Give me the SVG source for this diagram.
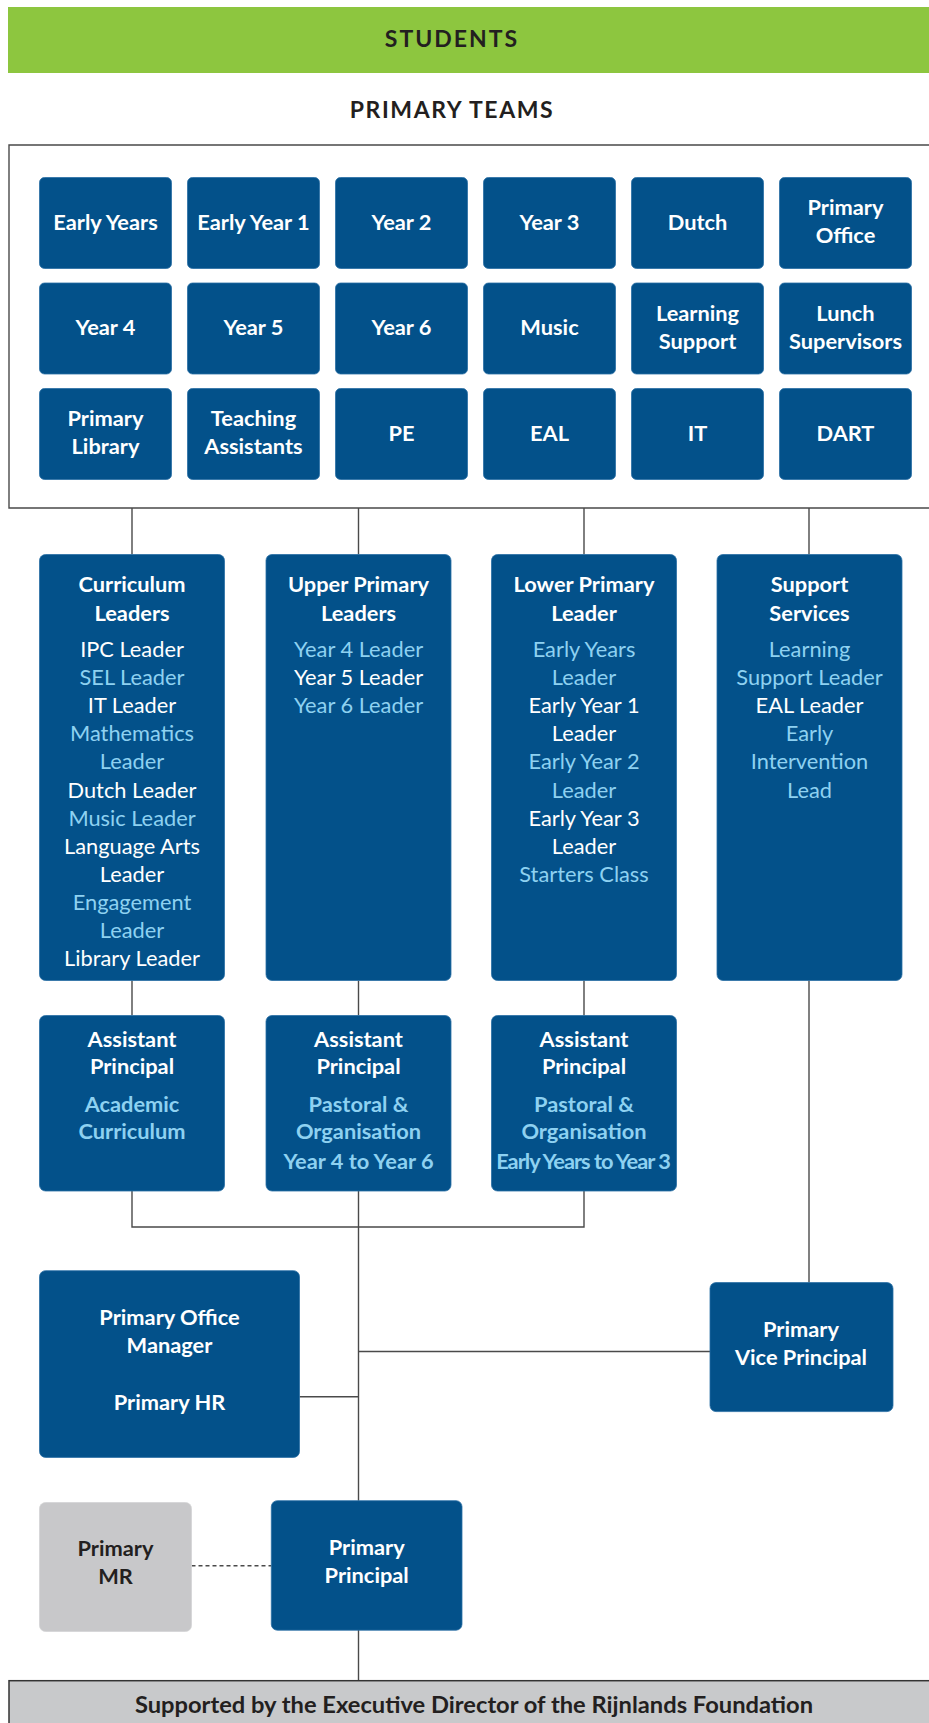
<svg xmlns="http://www.w3.org/2000/svg" width="929" height="1723" viewBox="0 0 929 1723">
<style>
.box{fill:#03518A;stroke:#2a6ea4;stroke-width:0.8}
.grey{fill:#C8C8CA;stroke:#d4d4d6;stroke-width:0.8}
.t{font-family:Lato,"Open Sans","Liberation Sans",sans-serif;text-anchor:middle}
.b{font-weight:bold;fill:#FFFFFF;font-size:21.8px}
.hb{font-weight:bold;fill:#8ED1F1;font-size:21.8px}
.w{fill:#FFFFFF;font-size:21.8px}
.lb{fill:#8ED1F1;font-size:21.8px}
.hd{font-weight:bold;fill:#231F20;font-size:23px;letter-spacing:2px}
.dk{font-weight:bold;fill:#231F20;font-size:21.8px}
.ln{stroke:#4a4a4a;stroke-width:1.4;fill:none}
</style>
<g id="students">
<rect x="8" y="7" width="922" height="66" fill="#8DC63F"/>
<text class="t hd" x="452" y="46.5">STUDENTS</text>
</g>
<g id="primary-teams">
<text class="t hd" x="452" y="118" style="letter-spacing:1.6px">PRIMARY TEAMS</text>
<path class="ln" d="M935,145 H9 V508 H935" stroke="#555" stroke-width="1.6"/>
</g>
<g id="connectors">
<path class="ln" d="M132,508 V554.5 M358.5,508 V554.5 M584,508 V554.5 M809,508 V554.5"/>
<path class="ln" d="M132,980.5 V1015.5 M358.5,980.5 V1015.5 M584,980.5 V1015.5"/>
<path class="ln" d="M132,1191 V1227 H584 V1191 M358.5,1191 V1500.7"/>
<path class="ln" d="M809,980.5 V1282.6"/>
<path class="ln" d="M358.5,1351.5 H710"/>
<path class="ln" d="M299.5,1396.7 H358.5"/>
<path class="ln" d="M358.5,1630 V1681"/>
<path class="ln" d="M191.5,1565.7 H271.3" stroke-dasharray="4,3"/>
</g>
<g id="team-early-years"><rect class="box" x="39.5" y="177.5" width="132" height="91" rx="5"/><text class="t b" x="105.5" y="229.5">Early Years</text></g>
<g id="team-early-year-1"><rect class="box" x="187.5" y="177.5" width="132" height="91" rx="5"/><text class="t b" x="253.5" y="229.5">Early Year 1</text></g>
<g id="team-year-2"><rect class="box" x="335.5" y="177.5" width="132" height="91" rx="5"/><text class="t b" x="401.5" y="229.5">Year 2</text></g>
<g id="team-year-3"><rect class="box" x="483.5" y="177.5" width="132" height="91" rx="5"/><text class="t b" x="549.5" y="229.5">Year 3</text></g>
<g id="team-dutch"><rect class="box" x="631.5" y="177.5" width="132" height="91" rx="5"/><text class="t b" x="697.5" y="229.5">Dutch</text></g>
<g id="team-primary-office"><rect class="box" x="779.5" y="177.5" width="132" height="91" rx="5"/><text class="t b" x="845.5" y="215">Primary</text><text class="t b" x="845.5" y="243">Office</text></g>
<g id="team-year-4"><rect class="box" x="39.5" y="283" width="132" height="91" rx="5"/><text class="t b" x="105.5" y="335">Year 4</text></g>
<g id="team-year-5"><rect class="box" x="187.5" y="283" width="132" height="91" rx="5"/><text class="t b" x="253.5" y="335">Year 5</text></g>
<g id="team-year-6"><rect class="box" x="335.5" y="283" width="132" height="91" rx="5"/><text class="t b" x="401.5" y="335">Year 6</text></g>
<g id="team-music"><rect class="box" x="483.5" y="283" width="132" height="91" rx="5"/><text class="t b" x="549.5" y="335">Music</text></g>
<g id="team-learning-support"><rect class="box" x="631.5" y="283" width="132" height="91" rx="5"/><text class="t b" x="697.5" y="320.5">Learning</text><text class="t b" x="697.5" y="348.5">Support</text></g>
<g id="team-lunch-supervisors"><rect class="box" x="779.5" y="283" width="132" height="91" rx="5"/><text class="t b" x="845.5" y="320.5">Lunch</text><text class="t b" x="845.5" y="348.5">Supervisors</text></g>
<g id="team-primary-library"><rect class="box" x="39.5" y="388.5" width="132" height="91" rx="5"/><text class="t b" x="105.5" y="426">Primary</text><text class="t b" x="105.5" y="454">Library</text></g>
<g id="team-teaching-assistants"><rect class="box" x="187.5" y="388.5" width="132" height="91" rx="5"/><text class="t b" x="253.5" y="426">Teaching</text><text class="t b" x="253.5" y="454">Assistants</text></g>
<g id="team-pe"><rect class="box" x="335.5" y="388.5" width="132" height="91" rx="5"/><text class="t b" x="401.5" y="440.5">PE</text></g>
<g id="team-eal"><rect class="box" x="483.5" y="388.5" width="132" height="91" rx="5"/><text class="t b" x="549.5" y="440.5">EAL</text></g>
<g id="team-it"><rect class="box" x="631.5" y="388.5" width="132" height="91" rx="5"/><text class="t b" x="697.5" y="440.5">IT</text></g>
<g id="team-dart"><rect class="box" x="779.5" y="388.5" width="132" height="91" rx="5"/><text class="t b" x="845.5" y="440.5">DART</text></g>
<g id="curriculum-leaders">
<rect class="box" x="39.5" y="554.5" width="185" height="426" rx="6"/>
<text class="t b" x="132" y="591.7">Curriculum</text>
<text class="t b" x="132" y="621">Leaders</text>
<text class="t w" x="132" y="656.7">IPC Leader</text>
<text class="t lb" x="132" y="684.9">SEL Leader</text>
<text class="t w" x="132" y="713">IT Leader</text>
<text class="t lb" x="132" y="741.2">Mathematics</text>
<text class="t lb" x="132" y="769.3">Leader</text>
<text class="t w" x="132" y="797.5">Dutch Leader</text>
<text class="t lb" x="132" y="825.6">Music Leader</text>
<text class="t w" x="132" y="853.8">Language Arts</text>
<text class="t w" x="132" y="881.9">Leader</text>
<text class="t lb" x="132" y="910.1">Engagement</text>
<text class="t lb" x="132" y="938.2">Leader</text>
<text class="t w" x="132" y="966.4">Library Leader</text>
</g>
<g id="upper-primary-leaders">
<rect class="box" x="266" y="554.5" width="185" height="426" rx="6"/>
<text class="t b" x="358.5" y="591.7">Upper Primary</text>
<text class="t b" x="358.5" y="621">Leaders</text>
<text class="t lb" x="358.5" y="656.7">Year 4 Leader</text>
<text class="t w" x="358.5" y="684.9">Year 5 Leader</text>
<text class="t lb" x="358.5" y="713">Year 6 Leader</text>
</g>
<g id="lower-primary-leader">
<rect class="box" x="491.5" y="554.5" width="185" height="426" rx="6"/>
<text class="t b" x="584" y="591.7">Lower Primary</text>
<text class="t b" x="584" y="621">Leader</text>
<text class="t lb" x="584" y="656.7">Early Years</text>
<text class="t lb" x="584" y="684.9">Leader</text>
<text class="t w" x="584" y="713">Early Year 1</text>
<text class="t w" x="584" y="741.2">Leader</text>
<text class="t lb" x="584" y="769.3">Early Year 2</text>
<text class="t lb" x="584" y="797.5">Leader</text>
<text class="t w" x="584" y="825.6">Early Year 3</text>
<text class="t w" x="584" y="853.8">Leader</text>
<text class="t lb" x="584" y="881.9">Starters Class</text>
</g>
<g id="support-services">
<rect class="box" x="717" y="554.5" width="185" height="426" rx="6"/>
<text class="t b" x="809.5" y="591.7">Support</text>
<text class="t b" x="809.5" y="621">Services</text>
<text class="t lb" x="809.5" y="656.7">Learning</text>
<text class="t lb" x="809.5" y="684.9">Support Leader</text>
<text class="t w" x="809.5" y="713">EAL Leader</text>
<text class="t lb" x="809.5" y="741.2">Early</text>
<text class="t lb" x="809.5" y="769.3">Intervention</text>
<text class="t lb" x="809.5" y="797.5">Lead</text>
</g>
<g id="ap-academic">
<rect class="box" x="39.5" y="1015.5" width="185" height="175.5" rx="6"/>
<text class="t b" x="132" y="1046.7">Assistant</text>
<text class="t b" x="132" y="1074">Principal</text>
<text class="t hb" x="132" y="1111.7">Academic</text>
<text class="t hb" x="132" y="1139.3">Curriculum</text>
</g>
<g id="ap-upper">
<rect class="box" x="266" y="1015.5" width="185" height="175.5" rx="6"/>
<text class="t b" x="358.5" y="1046.7">Assistant</text>
<text class="t b" x="358.5" y="1074">Principal</text>
<text class="t hb" x="358.5" y="1111.7">Pastoral &amp;</text>
<text class="t hb" x="358.5" y="1139.3">Organisation</text>
<text class="t hb" x="358.5" y="1168.5">Year 4 to Year 6</text>
</g>
<g id="ap-lower">
<rect class="box" x="491.5" y="1015.5" width="185" height="175.5" rx="6"/>
<text class="t b" x="584" y="1046.7">Assistant</text>
<text class="t b" x="584" y="1074">Principal</text>
<text class="t hb" x="584" y="1111.7">Pastoral &amp;</text>
<text class="t hb" x="584" y="1139.3">Organisation</text>
<text class="t hb" x="583" y="1168.5" style="letter-spacing:-1px">Early Years to Year 3</text>
</g>
<g id="office-manager">
<rect class="box" x="39.5" y="1270.7" width="260" height="186.7" rx="6"/>
<text class="t b" x="169.5" y="1325">Primary Office</text>
<text class="t b" x="169.5" y="1353">Manager</text>
<text class="t b" x="169.5" y="1410">Primary HR</text>
</g>
<g id="vice-principal">
<rect class="box" x="710" y="1282.6" width="183" height="129" rx="6"/>
<text class="t b" x="801" y="1337">Primary</text>
<text class="t b" x="801" y="1365">Vice Principal</text>
</g>
<g id="primary-mr">
<rect class="grey" x="39.5" y="1502.5" width="152" height="129" rx="6"/>
<text class="t dk" x="115.5" y="1556">Primary</text>
<text class="t dk" x="115.5" y="1584">MR</text>
</g>
<g id="primary-principal">
<rect class="box" x="271.3" y="1500.7" width="190.7" height="129.5" rx="6"/>
<text class="t b" x="366.7" y="1555">Primary</text>
<text class="t b" x="366.7" y="1583">Principal</text>
</g>
<g id="executive-director">
<rect x="9" y="1680.7" width="930" height="60" fill="#C8C9CB" stroke="#333" stroke-width="1.5"/>
<text class="t dk" x="474" y="1713.3" style="font-size:23.7px">Supported by the Executive Director of the Rijnlands Foundation</text>
</g>
</svg>
